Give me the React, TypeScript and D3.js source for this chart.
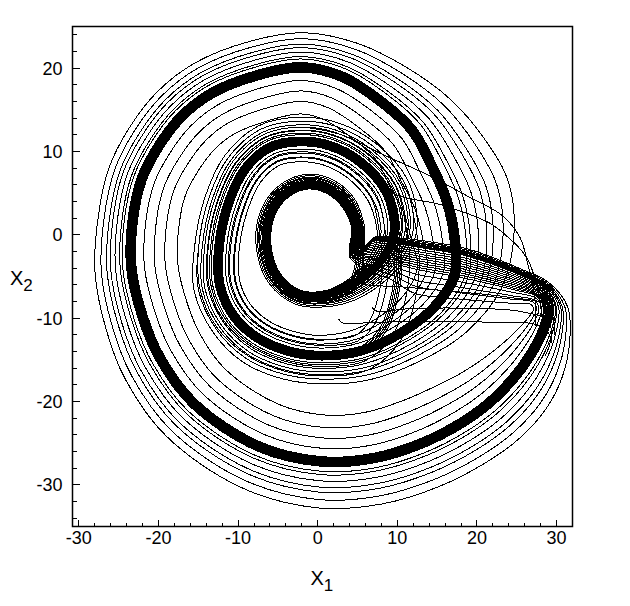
import * as d3 from "d3";
import { useEffect } from "react";

const width = 630;
const height = 606;
const frame = { left: 72.5, right: 572.5, top: 26.5, bottom: 526.5 };
const font = "'Liberation Sans', Arial, sans-serif";

const xDomain = [-30.8, 32];
const yDomain = [-35, 25];
const xTicks = [-30, -20, -10, 0, 10, 20, 30];
const yTicks = [-30, -20, -10, 0, 10, 20];
const xMinorTicks = [-28, -26, -24, -22, -18, -16, -14, -12, -8, -6, -4, -2, 2, 4, 6, 8, 12, 14, 16, 18, 22, 24, 26, 28, 32];
const yMinorTicks = [-34, -32, -28, -26, -24, -22, -18, -16, -14, -12, -8, -6, -4, -2, 2, 4, 6, 8, 12, 14, 16, 18, 22, 24];

// centre line of the dense trajectory:
// inner turn, middle turn, outer turn, fold, re-injection
const spiralX = [
  5.0, 4.7, 3.3, 0.8, -1.6, -4.3, -6.0, -6.3, -5.0, -2.2, 1.0, 3.8,
  6.8, 9.0,
  9.7, 8.6, 5.4, 1.5, -2.3, -6.0, -9.2, -11.3, -12.4, -12.3, -10.5, -7.5, -3.5, 0.5, 5.5, 10.9, 14.8, 17.2,
  17.2, 16.2, 14.4, 11.9, 7.8, 3.0, -2.0, -7.4, -13.3, -17.1, -20.0, -22.1, -23.2, -23.4, -22.0, -19.8,
  -15.5, -7.4, 0.5, 7.0, 13.1, 18.0, 21.5, 24.5, 26.6, 28.3,
  29.0, 28.0, 25.0, 18.2, 13.0, 9.9, 7.0,
];
const spiralY = [
  -2.0, 1.0, 3.8, 5.6, 5.9, 4.6, 2.0, -1.5, -5.0, -7.1, -7.2, -6.3,
  -4.3, -1.5,
  1.0, 5.2, 8.7, 10.7, 11.2, 10.5, 7.8, 3.5, -1.5, -6.0, -9.8, -12.4, -14.0, -14.5, -13.9, -11.5, -8.5, -4.8,
  -0.5, 4.1, 8.1, 12.5, 16.1, 19.0, 20.1, 19.2, 17.0, 14.2, 10.6, 6.7, 2.0, -4.0, -9.8, -14.8,
  -20.3, -25.4, -27.2, -26.8, -25.0, -22.6, -20.2, -17.3, -14.6, -11.5,
  -8.8, -6.9, -5.7, -3.8, -2.9, -2.3, -1.9,
];
// spread of the orbits around that centre line, in x units:
// half width of the dense core, and how far single orbits stray inward / outward
const spiralCore = [
  0.7, 0.4, 0.4, 0.4, 0.4, 0.4, 0.4, 0.4, 0.4, 0.4, 0.4, 0.4,
  0.45, 0.5,
  0.55, 0.55, 0.55, 0.55, 0.55, 0.55, 0.55, 0.55, 0.55, 0.55, 0.55, 0.55, 0.55, 0.55, 0.55, 0.55, 0.58, 0.6,
  0.6, 0.6, 0.6, 0.6, 0.6, 0.6, 0.6, 0.6, 0.6, 0.6, 0.6, 0.6, 0.6, 0.6, 0.6, 0.6,
  0.6, 0.6, 0.6, 0.6, 0.6, 0.6, 0.6, 0.6, 0.6, 0.6,
  0.65, 0.7, 1.0, 1.4, 1.4, 1.3, 1.2,
];
const spiralStrayIn = [
  0.5, 0.06, 0.06, 0.06, 0.06, 0.06, 0.06, 0.06, 0.06, 0.06, 0.12, 0.4,
  0.75, 1.25,
  1.75, 2.0, 2.0, 2.0, 2.0, 2.0, 2.0, 2.0, 2.0, 2.0, 2.0, 2.0, 2.0, 2.0, 2.25, 2.75, 3.5, 4.25,
  4.75, 5.0, 5.25, 5.25, 5.25, 5.25, 5.25, 5.25, 5.25, 5.25, 5.25, 5.25, 5.25, 5.25, 5.25, 5.25,
  5.25, 5.25, 5.25, 5.25, 5.25, 5.0, 4.5, 3.75, 3.0, 2.0,
  1.25, 1.25, 1.75, 2.75, 3.0, 2.0, 1.5,
];
const spiralStrayOut = [
  0.5, 0.75, 1.0, 1.0, 1.0, 1.0, 1.0, 1.0, 1.0, 1.0, 1.1, 1.4,
  1.6, 2.0,
  2.25, 2.5, 2.5, 2.5, 2.5, 2.5, 2.5, 2.5, 2.5, 2.75, 2.75, 3.0, 3.0, 3.0, 3.25, 3.75, 4.5, 5.5,
  6.9, 7.5, 6.9, 5.6, 4.75, 4.0, 3.75, 3.75, 3.75, 3.75, 3.75, 3.75, 3.75, 4.0, 4.25, 4.5,
  4.75, 5.0, 5.25, 5.25, 5.25, 5.25, 5.25, 5.0, 4.25, 3.0,
  1.75, 0.9, 0.75, 0.9, 0.9, 0.75, 0.5,
];

// orbits that stay one more turn on the inner and on the middle ring
const innerLoopX = [4.7, 3.3, 0.8, -1.6, -4.3, -6.0, -6.3, -5.0, -2.2, 1.0, 3.8, 4.9, 5.0];
const innerLoopY = [1.0, 3.8, 5.6, 5.9, 4.6, 2.0, -1.5, -5.0, -7.1, -7.2, -6.3, -4.0, -1.5];
const middleLoopX = [9.7, 8.6, 5.4, 1.5, -2.3, -6.0, -9.2, -11.3, -12.4, -12.3, -10.5, -7.5, -3.5, 0.5, 5.5, 8.3, 9.8, 10.2];
const middleLoopY = [1.0, 5.2, 8.7, 10.7, 11.2, 10.5, 7.8, 3.5, -1.5, -6.0, -9.8, -12.4, -14.0, -14.5, -13.9, -11.3, -7.0, -3.0];

// single orbits that fold early or late
const upperFoldA = [[27.4, -11], [27.2, -7], [26.5, -4.0], [25.4, -0.3], [23.2, 2.3], [19.1, 4.5], [13.8, 7.2], [7.8, 9.8], [3.0, 12.0], [-1.5, 12.9]];
const upperFoldB = [[28.2, -10], [27.6, -6.5], [26.6, -3.4], [25.6, -1.9], [23.8, -0.2], [21.6, 1.4], [15.5, 3.6], [9.4, 5.0], [7.5, 7.2]];
const lowFoldA = [[28.6, -14.5], [29.2, -12.2], [27.5, -10.8], [22, -10.5], [14, -10.4], [7, -10.5], [3.2, -10.6], [2.6, -10.1]];
const lowFoldB = [[29.4, -13], [29.0, -10.4], [25.5, -9.2], [18, -8.8], [11, -8.9], [7.5, -9.2], [6.8, -8.7]];
const lowFoldC = [[29.8, -12], [29.0, -8.6], [24, -7.5], [16, -6.7], [10, -6.2], [5.8, -5.9], [4.6, -5.0], [4.9, -4.2]];
const singleOrbits = [upperFoldA, upperFoldB, lowFoldA, lowFoldB, lowFoldC];

type Spread = number[] | number;
type Band = {
  xs: number[];
  ys: number[];
  core: Spread;
  strayIn: Spread;
  strayOut: Spread;
  corePos: number[];
  inPos: number[];
  outPos: number[];
};

const bands: Band[] = [
  {
    xs: spiralX,
    ys: spiralY,
    core: spiralCore,
    strayIn: spiralStrayIn,
    strayOut: spiralStrayOut,
    corePos: [-1, -0.8, -0.6, -0.4, -0.2, 0, 0.2, 0.4, 0.6, 0.8, 1],
    inPos: [0.2, 0.45, 0.7, 1],
    outPos: [0.12, 0.2, 0.35, 0.5, 0.62, 0.8, 1],
  },
  {
    xs: innerLoopX,
    ys: innerLoopY,
    core: 0.4,
    strayIn: 0.05,
    strayOut: 0.35,
    corePos: [-0.7, -0.2, 0.3, 0.8],
    inPos: [],
    outPos: [0.6, 1],
  },
  {
    xs: middleLoopX,
    ys: middleLoopY,
    core: 0.55,
    strayIn: 1.5,
    strayOut: 2.0,
    corePos: [-0.9, -0.5, -0.1, 0.3, 0.7],
    inPos: [0.5, 1],
    outPos: [0.4, 1],
  },
];

export default function App() {
  useEffect(() => {
    document.body.style.margin = "0";
  }, []);

  const x = d3.scaleLinear().domain(xDomain).range([frame.left, frame.right]);
  const y = d3.scaleLinear().domain(yDomain).range([frame.bottom, frame.top]);
  const unit = x(1) - x(0);

  const closedLine = d3.line().curve(d3.curveCatmullRomClosed.alpha(0.5));
  const openLine = d3
    .line<number[]>()
    .x((d) => x(d[0]))
    .y((d) => y(d[1]))
    .curve(d3.curveCatmullRom.alpha(0.5));

  const bandPaths = (b: Band) => {
    const pts = b.xs.map((v, i) => [x(v), y(b.ys[i])]);
    const n = pts.length;
    const at = (s: Spread, i: number) => (Array.isArray(s) ? s[i] : s) * unit;
    const normals = pts.map((_, i) => {
      const a = pts[(i - 1 + n) % n];
      const c = pts[(i + 1) % n];
      const tx = c[0] - a[0];
      const ty = c[1] - a[1];
      const len = Math.hypot(tx, ty);
      return [-ty / len, tx / len];
    });
    const strand = (offset: (i: number) => number) =>
      closedLine(
        pts.map((p, i) => {
          const o = offset(i);
          return [p[0] + normals[i][0] * o, p[1] + normals[i][1] * o] as [number, number];
        })
      ) as string;
    return [
      ...b.corePos.map((k) => strand((i) => k * at(b.core, i))),
      ...b.inPos.map((k) => strand((i) => -(at(b.core, i) + k * at(b.strayIn, i)))),
      ...b.outPos.map((k) => strand((i) => at(b.core, i) + k * at(b.strayOut, i))),
    ];
  };

  const strands = bands.flatMap(bandPaths);

  return (
    <svg width={width} height={height} style={{ display: "block", background: "#fff" }}>
      <defs>
        <clipPath id="plot">
          <rect x={frame.left} y={frame.top} width={frame.right - frame.left} height={frame.bottom - frame.top} />
        </clipPath>
      </defs>
      <rect width={width} height={height} fill="#fff" />
      <g clipPath="url(#plot)" fill="none" stroke="#000" strokeWidth={1} shapeRendering="crispEdges">
        {strands.map((d, i) => (
          <path key={i} d={d} />
        ))}
        {singleOrbits.map((o, i) => (
          <path key={"o" + i} d={openLine(o) as string} />
        ))}
      </g>
      <rect
        x={frame.left}
        y={frame.top}
        width={frame.right - frame.left}
        height={frame.bottom - frame.top}
        fill="none"
        stroke="#000"
        strokeWidth={1.5}
      />
      <g stroke="#000" strokeWidth={1} shapeRendering="crispEdges">
        {xTicks.map((t) => (
          <line key={"xt" + t} x1={x(t)} x2={x(t)} y1={frame.bottom} y2={frame.bottom - 7} />
        ))}
        {xMinorTicks.map((t) => (
          <line key={"xm" + t} x1={x(t)} x2={x(t)} y1={frame.bottom} y2={frame.bottom - 4} />
        ))}
        {yTicks.map((t) => (
          <line key={"yt" + t} x1={frame.left} x2={frame.left + 7} y1={y(t)} y2={y(t)} />
        ))}
        {yMinorTicks.map((t) => (
          <line key={"ym" + t} x1={frame.left} x2={frame.left + 4} y1={y(t)} y2={y(t)} />
        ))}
      </g>
      <g fontFamily={font} fontSize={18} fill="#000">
        {xTicks.map((t) => (
          <text key={"xl" + t} x={x(t)} y={frame.bottom + 17} textAnchor="middle">
            {t}
          </text>
        ))}
        {yTicks.map((t) => (
          <text key={"yl" + t} x={frame.left - 10} y={y(t) + 6.5} textAnchor="end">
            {t}
          </text>
        ))}
      </g>
      <g fontFamily={font} fill="#000">
        <text x={310.5} y={585} fontSize={20}>
          X<tspan fontSize={17} dy={6}>1</tspan>
        </text>
        <text x={10} y={284.5} fontSize={20}>
          X<tspan fontSize={17} dy={6}>2</tspan>
        </text>
      </g>
    </svg>
  );
}
